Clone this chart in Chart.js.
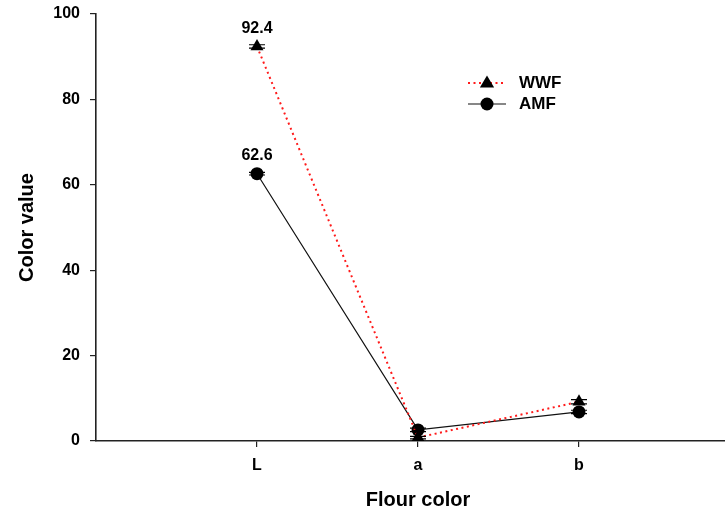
<!DOCTYPE html>
<html>
<head>
<meta charset="utf-8">
<title>Flour color</title>
<script src="https://cdn.jsdelivr.net/npm/chart.js@4.4.1/dist/chart.umd.min.js"></script>
<style>
  html, body { margin: 0; padding: 0; background: #fff; overflow: hidden; }
  #wrap { width: 750px; height: 512px; }
</style>
</head>
<body>
<div id="wrap"><canvas id="chart" width="750" height="512"></canvas></div>
<script>
// Flour color parameters (CIE L*, a*, b*)
const categories = ['L', 'a', 'b'];
const wwfValues = [92.4, 0.8, 9.2];   // whole wheat flour
const amfValues = [62.6, 2.6, 6.8];   // amaranth flour
const wwfErrors = [0.4, 0.3, 0.5];
const amfErrors = [0.3, 0.4, 0.4];
const yTicks = [0, 20, 40, 60, 80, 100];
const seriesNames = ['WWF', 'AMF'];
const labelledIndex = 0;              // point carrying a value label

const FONT = "'Liberation Sans', Arial, Helvetica, sans-serif";

const toPoints = vals => vals.map((v, i) => ({ x: i + 1, y: v }));

// error bars with caps
const errorBars = {
  id: 'errorBars',
  afterDatasetsDraw(chart) {
    const ctx = chart.ctx;
    const ys = chart.scales.y;
    chart.data.datasets.forEach((ds, di) => {
      const meta = chart.getDatasetMeta(di);
      meta.data.forEach((pt, i) => {
        const v = ds.data[i].y, e = ds.errors[i];
        const y1 = ys.getPixelForValue(v + e), y2 = ys.getPixelForValue(v - e);
        ctx.save();
        ctx.strokeStyle = '#000';
        ctx.lineWidth = 1.2;
        ctx.beginPath();
        ctx.moveTo(pt.x, y1); ctx.lineTo(pt.x, y2);
        ctx.moveTo(pt.x - 8, y1); ctx.lineTo(pt.x + 8, y1);
        ctx.moveTo(pt.x - 8, y2); ctx.lineTo(pt.x + 8, y2);
        ctx.stroke();
        ctx.restore();
      });
    });
  }
};

// value labels above the L points
const valueLabels = {
  id: 'valueLabels',
  afterDatasetsDraw(chart) {
    const ctx = chart.ctx;
    chart.data.datasets.forEach((ds, di) => {
      const pt = chart.getDatasetMeta(di).data[labelledIndex];
      ctx.save();
      ctx.font = 'bold 16px ' + FONT;
      ctx.fillStyle = '#000';
      ctx.textAlign = 'center';
      ctx.textBaseline = 'middle';
      ctx.fillText(ds.data[labelledIndex].y.toFixed(1), pt.x, pt.y - 18);
      ctx.restore();
    });
  }
};

// legend: line sample with its marker in the middle
const lineLegend = {
  id: 'lineLegend',
  afterDraw(chart) {
    const ctx = chart.ctx;
    const x0 = 468, x1 = 506, rowY = [83, 104];
    chart.data.datasets.forEach((ds, di) => {
      const y = rowY[di];
      ctx.save();
      ctx.strokeStyle = ds.borderColor;
      ctx.lineWidth = ds.borderWidth;
      ctx.setLineDash(ds.borderDash || []);
      ctx.beginPath();
      ctx.moveTo(x0, y); ctx.lineTo(x1, y);
      ctx.stroke();
      ctx.setLineDash([]);
      ctx.fillStyle = '#000';
      const cx = (x0 + x1) / 2;
      ctx.beginPath();
      if (ds.pointStyle === 'triangle') {
        const r = ds.pointRadius;
        ctx.moveTo(cx, y - r);
        ctx.lineTo(cx + r * 0.95, y + r * 0.6);
        ctx.lineTo(cx - r * 0.95, y + r * 0.6);
        ctx.closePath();
      } else {
        ctx.arc(cx, y, ds.pointRadius, 0, Math.PI * 2);
      }
      ctx.fill();
      ctx.font = 'bold 17px ' + FONT;
      ctx.textAlign = 'left';
      ctx.textBaseline = 'middle';
      ctx.fillText(ds.label, 519, y);
      ctx.restore();
    });
  }
};

new Chart(document.getElementById('chart'), {
  type: 'line',
  data: {
    datasets: [
      {
        label: seriesNames[0],
        data: toPoints(wwfValues),
        errors: wwfErrors,
        borderColor: '#ff1a1a',
        borderWidth: 2,
        borderDash: [2, 3.5],
        pointStyle: 'triangle',
        pointRadius: 7.5,
        pointBackgroundColor: '#000',
        pointBorderColor: '#000',
        pointBorderWidth: 0,
        tension: 0
      },
      {
        label: seriesNames[1],
        data: toPoints(amfValues),
        errors: amfErrors,
        borderColor: '#111',
        borderWidth: 1.2,
        pointStyle: 'circle',
        pointRadius: 6.5,
        pointBackgroundColor: '#000',
        pointBorderColor: '#000',
        pointBorderWidth: 0,
        tension: 0
      }
    ]
  },
  options: {
    responsive: false,
    animation: false,
    layout: { padding: { top: 14, right: 10, bottom: 0, left: 0 } },
    plugins: { legend: { display: false }, tooltip: { enabled: false } },
    scales: {
      x: {
        type: 'linear',
        min: 0,
        max: categories.length + 1,
        afterBuildTicks(axis) {
          axis.ticks = categories.map((c, i) => ({ value: i + 1 }));
        },
        afterFit(axis) { axis.height = 71; },
        grid: { drawOnChartArea: false, drawTicks: true, tickLength: 6, color: '#222', lineWidth: 1.2 },
        border: { display: true, color: '#222', width: 1.6 },
        ticks: {
          color: '#000',
          padding: 9,
          font: { family: FONT, size: 16, weight: 'bold' },
          callback: v => categories[v - 1]
        },
        title: {
          display: true,
          text: 'Flour color',
          color: '#000',
          padding: { top: 0, bottom: 0 },
          font: { family: FONT, size: 20, weight: 'bold' }
        }
      },
      y: {
        min: yTicks[0],
        max: yTicks[yTicks.length - 1],
        afterBuildTicks(axis) {
          axis.ticks = yTicks.map(v => ({ value: v }));
        },
        afterFit(axis) {
          axis.width = 96;
          axis.paddingTop = 0;
          axis.paddingBottom = 0;
        },
        grid: { drawOnChartArea: false, drawTicks: true, tickLength: 6, color: '#222', lineWidth: 1.2 },
        border: { display: true, color: '#222', width: 1.6 },
        ticks: {
          color: '#000',
          padding: 10,
          font: { family: FONT, size: 16, weight: 'bold' }
        },
        title: {
          display: true,
          text: 'Color value',
          color: '#000',
          padding: { top: 15, bottom: 0 },
          font: { family: FONT, size: 20, weight: 'bold' }
        }
      }
    }
  },
  plugins: [errorBars, valueLabels, lineLegend]
});
</script>
</body>
</html>
